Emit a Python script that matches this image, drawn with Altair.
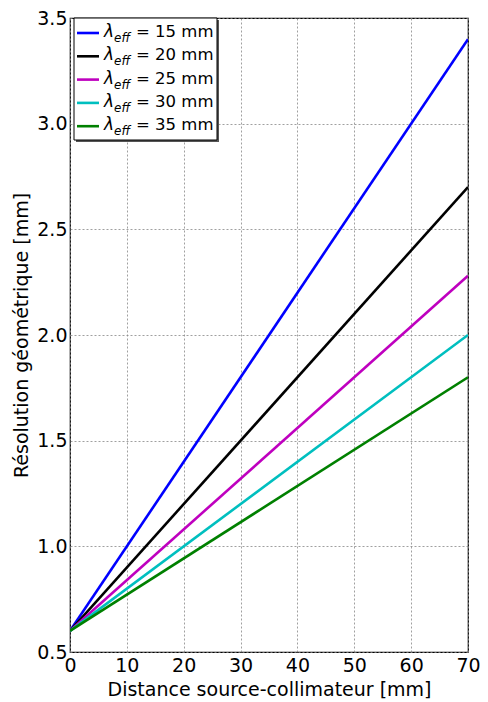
import altair as alt
import pandas as pd

# Data
lambdas = [15, 20, 25, 30, 35]
labels = ["λeff = 15 mm", "λeff = 20 mm", "λeff = 25 mm", "λeff = 30 mm", "λeff = 35 mm"]
colors = ["#0000ff", "#000000", "#bf00bf", "#00bfbf", "#008000"]
x_points = [0, 70]
y_start = [0.6, 0.6, 0.6, 0.6, 0.6]
y_end = [3.4, 2.7, 2.28, 2.0, 1.8]
x_ticks = [0, 10, 20, 30, 40, 50, 60, 70]
y_ticks = [0.5, 1.0, 1.5, 2.0, 2.5, 3.0, 3.5]

rows = []
for lab, y0, y1 in zip(labels, y_start, y_end):
    rows.append({"d": x_points[0], "r": y0, "serie": lab})
    rows.append({"d": x_points[1], "r": y1, "serie": lab})
df = pd.DataFrame(rows)

FONT = "DejaVu Sans"

lines = alt.Chart(df).mark_line(strokeWidth=2.6, clip=True).encode(
    x=alt.X("d:Q", title="Distance source-collimateur [mm]",
            scale=alt.Scale(domain=[0, 70], nice=False),
            axis=alt.Axis(values=x_ticks, format="d", labelFlush=False, labelOverlap=False)),
    y=alt.Y("r:Q", title="Résolution géométrique [mm]",
            scale=alt.Scale(domain=[0.5, 3.5], nice=False, zero=False),
            axis=alt.Axis(values=y_ticks, format=".1f", labelFlush=False, labelOverlap=False)),
    color=alt.Color("serie:N", scale=alt.Scale(domain=labels, range=colors), legend=None),
    detail="serie:N",
)

one = pd.DataFrame({"k": [0]})
layers = [lines]

# Custom legend (matplotlib-like with shadow)
box_x, box_x2, box_y, box_y2 = 4, 147, 0, 122
layers.append(alt.Chart(one).mark_rect(fill="#555555").encode(
    x=alt.value(box_x + 2), x2=alt.value(box_x2 + 2),
    y=alt.value(box_y + 2), y2=alt.value(box_y2 + 2)))
layers.append(alt.Chart(one).mark_rect(fill="white", stroke="black", strokeWidth=1).encode(
    x=alt.value(box_x), x2=alt.value(box_x2),
    y=alt.value(box_y), y2=alt.value(box_y2)))

for i, (lam, col) in enumerate(zip(lambdas, colors)):
    yy = 15 + 23.3 * i
    layers.append(alt.Chart(one).mark_rule(strokeWidth=2.6, color=col).encode(
        x=alt.value(7), x2=alt.value(29), y=alt.value(yy)))
    layers.append(alt.Chart(one).mark_text(
        text="λ", font=FONT, fontSize=17, fontStyle="italic",
        align="left", baseline="middle", color="black").encode(
        x=alt.value(34), y=alt.value(yy - 1)))
    layers.append(alt.Chart(one).mark_text(
        text="eff", font=FONT, fontSize=12, fontStyle="italic",
        align="left", baseline="middle", color="black").encode(
        x=alt.value(44), y=alt.value(yy + 5)))
    layers.append(alt.Chart(one).mark_text(
        text=f"= {lam} mm", font=FONT, fontSize=16.5,
        align="left", baseline="middle", color="black").encode(
        x=alt.value(66), y=alt.value(yy - 1)))

chart = alt.layer(*layers).properties(
    width=398, height=634,
    autosize=alt.AutoSizeParams(type="none"),
    padding={"left": 62, "top": 10, "right": 12, "bottom": 50},
).configure_view(
    stroke="black", strokeWidth=1.2
).configure_axis(
    grid=True, gridColor="#888888", gridDash=[2, 2], gridWidth=0.8,
    domain=False, ticks=False,
    labelFont=FONT, labelFontSize=19, labelColor="black",
    titleFont=FONT, titleFontSize=19, titleColor="black", titleFontWeight="normal",
).configure_axisY(titlePadding=5, labelPadding=3).configure_axisX(titlePadding=5, labelPadding=4)

chart.save("out.html", embed_options={"renderer": "svg", "actions": False})
